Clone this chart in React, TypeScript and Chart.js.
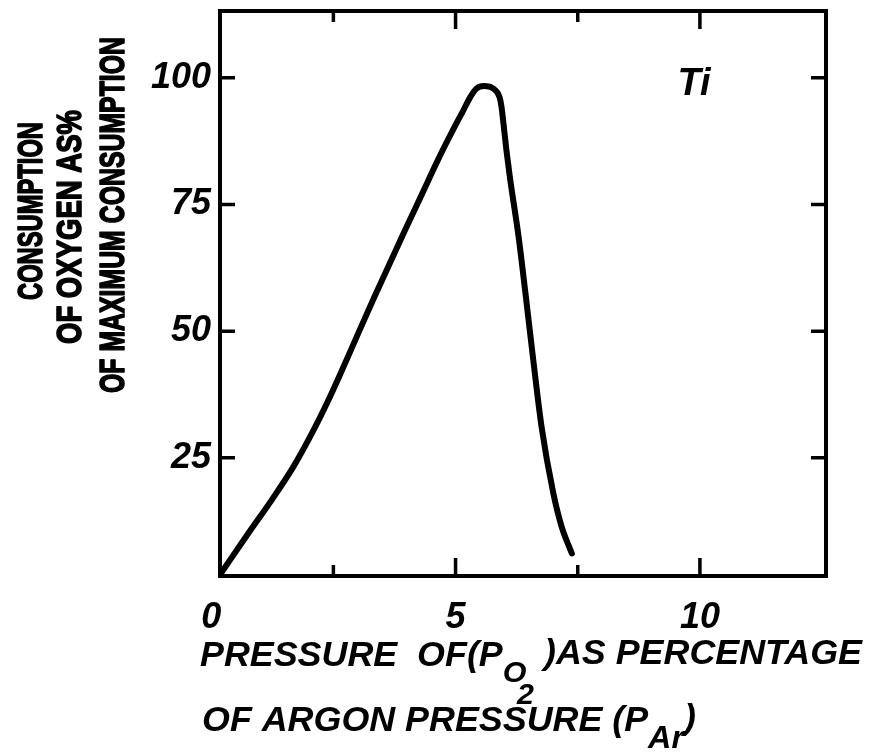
import React, { useEffect, useRef } from "react";
import { Chart, registerables } from "chart.js";

Chart.register(...registerables);

// ---- data ----
const xValues = [0.2, 0.76, 1.24, 1.68, 2.06, 2.4, 2.71, 3.01, 3.35, 3.66, 3.97, 4.31, 4.65, 4.99, 5.16, 5.3, 5.43, 5.58, 5.77, 5.9, 5.94, 5.98, 6.04, 6.11, 6.29, 6.43, 6.59, 6.76, 7.0, 7.17, 7.38];
const yValues = [2.2, 10.1, 16.7, 23.2, 29.8, 36.4, 43.0, 49.6, 57.0, 63.5, 70.0, 77.0, 84.0, 90.5, 93.6, 96.2, 97.9, 98.4, 97.9, 96.2, 94.3, 91.0, 85.8, 80.5, 68.6, 57.5, 44.3, 31.1, 18.0, 11.4, 6.1];

const xTickLabels = [0, 5, 10];
const xMinorTicks = [2.5, 7.5];
const yTickLabels = [25, 50, 75, 100];

const X_MIN = 0.18;
const X_MAX = 12.58;
const Y_MIN = 1.66;
const Y_MAX = 113.2;

const yTitleLines = ["CONSUMPTION", "OF OXYGEN AS%", "OF MAXIMUM CONSUMPTION"];
const seriesLabel = "Ti";

type Seg = { t: string; dy: number; s: number; dx?: number };

function segWidths(ctx: CanvasRenderingContext2D, segs: Seg[], size: number, family: string) {
  return segs.map((sg) => {
    ctx.font = `italic bold ${size * sg.s}px ${family}`;
    return ctx.measureText(sg.t).width;
  });
}

function drawSegs(ctx: CanvasRenderingContext2D, segs: Seg[], x0: number, y0: number, sx: number, size: number, family: string) {
  const widths = segWidths(ctx, segs, size, family);
  ctx.save();
  ctx.translate(x0, y0);
  ctx.scale(sx, 1);
  ctx.textAlign = "left";
  ctx.textBaseline = "alphabetic";
  let x = 0;
  segs.forEach((sg, i) => {
    ctx.font = `italic bold ${size * sg.s}px ${family}`;
    const dx = (sg.dx || 0) * widths[i];
    ctx.fillText(sg.t, x + dx, sg.dy);
    x += widths[i] + dx;
  });
  ctx.restore();
}

function drawFitted(ctx: CanvasRenderingContext2D, text: string, cx: number, cy: number, targetW: number, font: string, rotate: boolean) {
  ctx.save();
  ctx.font = font;
  ctx.translate(cx, cy);
  if (rotate) ctx.rotate(-Math.PI / 2);
  const w = ctx.measureText(text).width;
  ctx.scale(targetW / w, 1);
  ctx.textAlign = "center";
  ctx.textBaseline = "middle";
  ctx.lineWidth = 1.6;
  ctx.lineJoin = "round";
  ctx.strokeText(text, 0, 0);
  ctx.fillText(text, 0, 0);
  ctx.restore();
}

const decoPlugin = {
  id: "deco",
  afterDraw(chart: any) {
    const ctx: CanvasRenderingContext2D = chart.ctx;
    const { left, right, top, bottom } = chart.chartArea;
    const xs = chart.scales.x;
    const ys = chart.scales.y;
    ctx.save();
    ctx.strokeStyle = "#000";
    ctx.fillStyle = "#000";
    ctx.lineCap = "square";
    // frame
    ctx.lineWidth = 4;
    ctx.strokeRect(left, top, right - left, bottom - top);
    // inward ticks
    ctx.lineWidth = 3.5;
    ctx.lineCap = "butt";
    const xt = [...xTickLabels.map((v) => [v, 18]), ...xMinorTicks.map((v) => [v, 11])];
    xt.forEach(([v, len]) => {
      const px = xs.getPixelForValue(v);
      if (px < left + 2 || px > right - 2) return;
      ctx.beginPath();
      ctx.moveTo(px, bottom);
      ctx.lineTo(px, bottom - len);
      ctx.moveTo(px, top);
      ctx.lineTo(px, top + len);
      ctx.stroke();
    });
    yTickLabels.forEach((v) => {
      const py = ys.getPixelForValue(v);
      ctx.beginPath();
      ctx.moveTo(left, py);
      ctx.lineTo(left + 15, py);
      ctx.moveTo(right, py);
      ctx.lineTo(right - 15, py);
      ctx.stroke();
    });
    // series label
    ctx.font = "italic bold 38px 'Liberation Sans'";
    ctx.textAlign = "center";
    ctx.textBaseline = "middle";
    ctx.fillText(seriesLabel, 694, 85);
    // y title
    const yf = "bold 35px 'Liberation Sans Narrow', 'Liberation Sans'";
    drawFitted(ctx, yTitleLines[0], 32, 211, 178, yf, true);
    drawFitted(ctx, yTitleLines[1], 71, 227, 234, yf, true);
    drawFitted(ctx, yTitleLines[2], 114, 215, 356, yf, true);
    // x title
    const fam = "'Liberation Sans'";
    const size = 35;
    const line1: Seg[] = [
      { t: "PRESSURE  OF(P", dy: 0, s: 1 },
      { t: "O", dy: 16, s: 0.85 },
      { t: "2", dy: 38, s: 0.85, dx: -0.55 },
      { t: " )AS PERCENTAGE", dy: -2, s: 1 },
    ];
    const line2: Seg[] = [
      { t: "OF ARGON PRESSURE (P", dy: 0, s: 1 },
      { t: "Ar", dy: 17, s: 0.9 },
      { t: ")", dy: -2, s: 1 },
    ];
    const w1 = segWidths(ctx, line1, size, fam);
    let tot = 0;
    line1.forEach((sg, i) => (tot += w1[i] + (sg.dx || 0) * w1[i]));
    const sx = 662 / tot;
    drawSegs(ctx, line1, 200, 666, sx, size, fam);
    drawSegs(ctx, line2, 202, 731, sx, size, fam);
    ctx.restore();
  },
};

export default function App() {
  const ref = useRef<HTMLCanvasElement | null>(null);
  useEffect(() => {
    if (!ref.current) return;
    const tickFont = { family: "'Liberation Sans'", size: 36, style: "italic" as const, weight: "bold" as const };
    const chart = new Chart(ref.current, {
      type: "line",
      data: {
        datasets: [
          {
            data: xValues.map((x, i) => ({ x, y: yValues[i] })),
            borderColor: "#000",
            borderWidth: 6,
            pointRadius: 0,
            fill: false,
            cubicInterpolationMode: "monotone",
            borderCapStyle: "round",
            borderJoinStyle: "round",
            clip: 10,
          } as any,
        ],
      },
      options: {
        responsive: false,
        animation: false,
        devicePixelRatio: 1,
        layout: { padding: { left: 0, top: 11, right: 48, bottom: 0 } },
        plugins: { legend: { display: false }, tooltip: { enabled: false } },
        scales: {
          x: {
            type: "linear",
            min: X_MIN,
            max: X_MAX,
            afterBuildTicks: (s: any) => {
              s.ticks = xTickLabels.map((v) => ({ value: v }));
            },
            afterFit: (s: any) => {
              s.height = 178;
              s.paddingLeft = 0;
              s.paddingRight = 0;
            },
            ticks: { autoSkip: false, maxRotation: 0, color: "#000", font: tickFont, padding: 20, callback: (v: any) => String(v) },
            grid: { display: false, drawTicks: false },
            border: { display: false },
          },
          y: {
            type: "linear",
            min: Y_MIN,
            max: Y_MAX,
            afterBuildTicks: (s: any) => {
              s.ticks = yTickLabels.map((v) => ({ value: v }));
            },
            afterFit: (s: any) => {
              s.width = 220;
              s.paddingTop = 0;
              s.paddingBottom = 0;
            },
            ticks: { autoSkip: false, color: "#000", font: tickFont, padding: 9, callback: (v: any) => String(v) },
            grid: { display: false, drawTicks: false },
            border: { display: false },
          },
        },
      },
      plugins: [decoPlugin],
    });
    return () => chart.destroy();
  }, []);
  return (
    <div style={{ position: "fixed", left: 0, top: 0, width: 874, height: 754, background: "#fff" }}>
      <canvas ref={ref} width={874} height={754} style={{ display: "block" }} />
    </div>
  );
}
